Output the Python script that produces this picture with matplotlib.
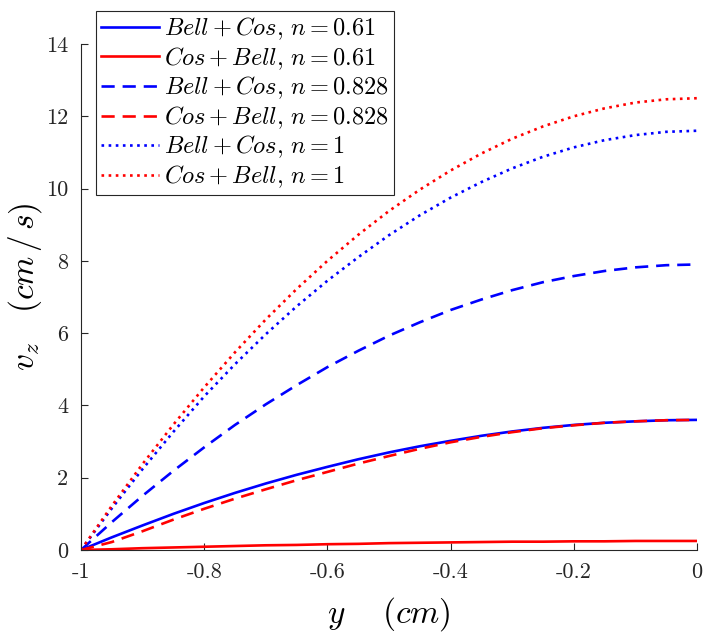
import numpy as np
from matplotlib import pyplot as plt

plt.rcParams['mathtext.fontset'] = 'cm'
plt.rcParams['axes.unicode_minus'] = False

# position across the channel, wall at -1, centre at 0
y_cm = [-1.0, -0.95, -0.9, -0.85, -0.8, -0.75, -0.7, -0.65, -0.6, -0.55, -0.5,
        -0.45, -0.4, -0.35, -0.3, -0.25, -0.2, -0.15, -0.1, -0.05, 0.0]

# velocity profiles v_z (cm/s)
bell_cos_061 = [0, 0.35, 0.68, 1.00, 1.30, 1.58, 1.84, 2.08, 2.30, 2.51, 2.70,
                2.87, 3.02, 3.16, 3.28, 3.38, 3.46, 3.52, 3.56, 3.59, 3.60]
cos_bell_061 = [0, 0.02, 0.05, 0.07, 0.09, 0.11, 0.13, 0.14, 0.16, 0.17, 0.19,
                0.20, 0.21, 0.22, 0.23, 0.23, 0.24, 0.24, 0.25, 0.25, 0.25]
bell_cos_0828 = [0, 0.77, 1.50, 2.19, 2.84, 3.46, 4.03, 4.56, 5.06, 5.51, 5.93,
                 6.30, 6.64, 6.93, 7.19, 7.41, 7.58, 7.72, 7.82, 7.88, 7.90]
cos_bell_0828 = [0, 0.22, 0.52, 0.84, 1.14, 1.42, 1.68, 1.93, 2.16, 2.39, 2.60,
                 2.80, 2.98, 3.13, 3.26, 3.37, 3.45, 3.52, 3.56, 3.59, 3.60]
bell_cos_1 = [0, 1.15, 2.24, 3.27, 4.25, 5.14, 5.97, 6.74, 7.45, 8.10, 8.71,
              9.26, 9.75, 10.18, 10.56, 10.88, 11.14, 11.34, 11.48, 11.57, 11.60]
cos_bell_1 = [0, 1.22, 2.38, 3.47, 4.50, 5.47, 6.38, 7.22, 8.00, 8.72, 9.38,
              9.97, 10.50, 10.97, 11.38, 11.72, 12.00, 12.22, 12.38, 12.47, 12.50]

labels = [r'$Bell + Cos,\, n = 0.61$', r'$Cos + Bell,\, n = 0.61$',
          r'$Bell + Cos,\, n = 0.828$', r'$Cos + Bell,\, n = 0.828$',
          r'$Bell + Cos,\, n = 1$', r'$Cos + Bell,\, n = 1$']

x_ticks = [-1, -0.8, -0.6, -0.4, -0.2, 0]
x_tick_labels = ['-1', '-0.8', '-0.6', '-0.4', '-0.2', '0']
y_ticks = [0, 2, 4, 6, 8, 10, 12, 14]
y_tick_labels = ['0', '2', '4', '6', '8', '10', '12', '14']

series = [bell_cos_061, cos_bell_061, bell_cos_0828, cos_bell_0828, bell_cos_1, cos_bell_1]
colors = ['b', 'r', 'b', 'r', 'b', 'r']
dash = (0, (5, 3))
dot = (0, (1, 1.7))
styles = ['-', '-', dash, dash, dot, dot]

fig = plt.figure(figsize=(7.06, 6.34), dpi=100)
ax = fig.add_axes([0.1147, 0.1325, 0.8726, 0.7981])

for vals, c, ls, lab in zip(series, colors, styles, labels):
    ax.plot(y_cm, vals, color=c, linestyle=ls, linewidth=1.9, label=lab)

ax.set_xlim(-1, 0)
ax.set_ylim(0, 14)
ax.spines['top'].set_visible(False)
ax.spines['right'].set_visible(False)
for s in ['left', 'bottom']:
    ax.spines[s].set_color('#262626')
    ax.spines[s].set_linewidth(0.8)

ax.set_xticks(x_ticks)
ax.set_xticklabels(x_tick_labels, fontfamily='cmr10', fontsize=16)
ax.set_yticks(y_ticks)
ax.set_yticklabels(y_tick_labels, fontfamily='cmr10', fontsize=16)
ax.tick_params(direction='in', length=5, width=0.8, colors='#262626', pad=9)

ax.set_xlabel(r'$y \quad\ (cm)$', fontsize=24)
ax.xaxis.set_label_coords(0.5, -0.09)
ax.set_ylabel(r'$v_z \quad (cm\,/\,s)$', fontsize=24)
ax.yaxis.set_label_coords(-0.06, 0.52)

leg = ax.legend(loc='upper left', bbox_to_anchor=(0.136, 0.983), bbox_transform=fig.transFigure,
                borderaxespad=0, fontsize=17.5, handlelength=2.4, handletextpad=0.2,
                borderpad=0.2, labelspacing=0.12, fancybox=False, framealpha=1)
leg.get_frame().set_edgecolor('#262626')
leg.get_frame().set_linewidth(0.8)

fig.savefig('out.png', dpi=100)
